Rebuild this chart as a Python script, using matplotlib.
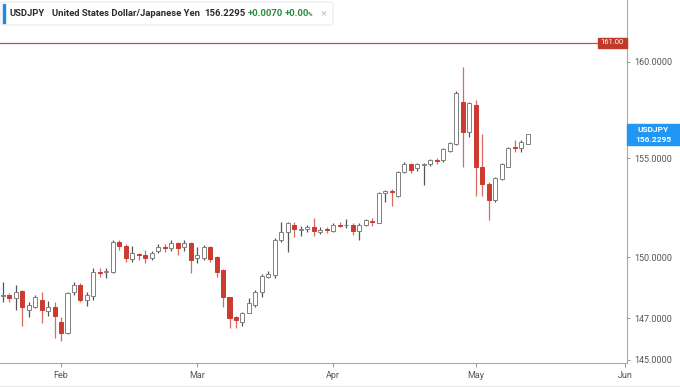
import pandas as pd
import matplotlib.pyplot as plt
from matplotlib.patches import Rectangle, FancyBboxPatch
from matplotlib.lines import Line2D
from matplotlib.ticker import FixedLocator, FuncFormatter, NullLocator

plt.rcParams['font.family'] = ['Roboto', 'DejaVu Sans']

dates = pd.bdate_range('2024-01-19', '2024-05-13')
opens = [148.10, 148.14, 148.01, 148.34, 147.42, 147.57, 147.90, 147.34, 147.56, 146.84,
         146.29, 148.30, 148.63, 147.90, 148.09, 149.29, 149.27, 149.29, 150.78, 150.58,
         149.92, 150.15, 150.12, 149.96, 150.29, 150.53, 150.45, 150.70, 150.53, 150.70,
         149.96, 149.96, 150.53, 149.99, 149.38, 148.03, 147.08, 146.84, 147.28, 147.66,
         148.30, 149.03, 149.10, 150.86, 151.27, 151.62, 151.38, 151.40, 151.53, 151.28,
         151.40, 151.33, 151.62, 151.60, 151.62, 151.33, 151.62, 151.80, 151.73, 153.21,
         153.33, 153.06, 154.28, 154.70, 154.47, 154.64, 154.67, 154.88, 154.88, 155.36,
         155.70, 157.92, 156.35, 157.73, 154.56, 153.68, 152.87, 153.93, 154.56, 155.56,
         155.51, 155.74]
highs = [148.80, 148.22, 148.63, 148.40, 147.82, 148.14, 148.29, 147.86, 147.81, 147.08,
         148.30, 148.79, 148.73, 148.30, 149.48, 149.48, 149.48, 150.86, 150.86, 150.65,
         150.58, 150.22, 150.37, 150.29, 150.65, 150.65, 150.86, 150.78, 150.86, 150.75,
         150.53, 150.60, 150.58, 150.05, 149.40, 148.05, 147.10, 147.33, 147.98, 148.39,
         149.15, 149.30, 150.95, 151.78, 151.78, 151.78, 151.55, 151.62, 151.95, 151.49,
         151.53, 151.72, 151.78, 151.90, 151.70, 151.70, 151.91, 151.95, 153.27, 153.37,
         153.40, 154.35, 154.79, 154.77, 154.74, 154.74, 154.96, 155.00, 155.52, 155.83,
         158.45, 159.75, 157.90, 157.99, 156.25, 153.80, 154.05, 154.77, 155.59, 155.95,
         155.95, 156.26]
lows = [147.82, 147.82, 147.42, 146.61, 147.08, 147.49, 146.78, 147.13, 146.06, 145.89,
        146.25, 148.14, 147.81, 147.60, 147.90, 149.04, 148.98, 149.20, 150.35, 149.79,
        149.79, 149.87, 149.72, 149.87, 150.20, 150.27, 150.32, 150.12, 150.32, 149.21,
        149.70, 149.87, 149.79, 149.04, 147.57, 146.53, 146.53, 146.61, 147.25, 147.57,
        148.06, 148.96, 149.00, 150.78, 150.28, 151.02, 151.08, 151.27, 151.06, 151.17,
        151.21, 151.27, 151.50, 151.45, 151.12, 150.86, 151.55, 151.57, 151.70, 152.78,
        152.57, 153.00, 154.23, 154.23, 154.33, 153.63, 154.57, 154.67, 154.80, 155.29,
        155.67, 154.56, 156.10, 153.06, 153.06, 151.86, 152.78, 153.89, 154.53, 155.33,
        155.33, 155.70]
closes = [148.12, 148.01, 148.30, 147.57, 147.66, 148.06, 147.42, 147.56, 147.13, 146.29,
          148.25, 148.63, 147.90, 148.14, 149.29, 149.24, 149.30, 150.78, 150.58, 149.96,
          150.20, 150.12, 149.96, 150.20, 150.53, 150.48, 150.70, 150.48, 150.70, 149.87,
          150.12, 150.53, 149.92, 149.29, 148.06, 147.01, 146.93, 147.25, 147.74, 148.30,
          149.08, 149.19, 150.86, 151.27, 151.70, 151.40, 151.41, 151.53, 151.33, 151.36,
          151.36, 151.62, 151.57, 151.63, 151.33, 151.62, 151.84, 151.76, 153.21, 153.33,
          153.28, 154.30, 154.71, 154.40, 154.69, 154.68, 154.88, 154.84, 155.48, 155.75,
          158.37, 156.35, 157.87, 154.56, 153.68, 152.87, 153.97, 154.70, 155.51, 155.51,
          155.84, 156.2295]

month_labels = ['Feb', 'Mar', 'Apr', 'May', 'Jun']
month_starts = ['2024-02-01', '2024-03-01', '2024-04-01', '2024-05-01', '2024-06-03']
price_ticks = [145, 147, 150, 155, 160]
alert_level = 161.0
symbol = 'USDJPY'
last_price = closes[-1]

df = pd.DataFrame({'open': opens, 'high': highs, 'low': lows, 'close': closes}, index=dates)
alldays = pd.bdate_range('2024-01-19', '2024-06-03')
tick_pos = [alldays.get_loc(pd.Timestamp(d)) for d in month_starts]

W, H = 680, 387
fig = plt.figure(figsize=(W / 100, H / 100), dpi=100)
ax = fig.add_axes([0, 1 - 363 / H, 627 / W, 363 / H])
ax.set_yscale('log')

x = list(range(len(df)))
up = df['close'] >= df['open']
red = '#cc3a30'
fill = ['white' if u else red for u in up]
edge = ['#808080' if u else red for u in up]
wick = ['#555555' if u else '#d46a60' for u in up]
bottom = df[['open', 'close']].min(axis=1)
height = (df['close'] - df['open']).abs()

ax.vlines(x, df['low'], df['high'], colors=wick, lw=0.9, zorder=2)
ax.bar(x, height, bottom=bottom, width=0.62, color=fill, edgecolor=edge, linewidth=0.7, zorder=3)

ax.axhline(alert_level, xmin=0, xmax=599 / 627, color='#c0504d', lw=0.9)

ax.set_xlim(-0.4167, 96.34)
ax.set_ylim(144.85, 163.31)

ax.yaxis.tick_right()
ax.yaxis.set_major_locator(FixedLocator(price_ticks))
ax.yaxis.set_minor_locator(NullLocator())
ax.yaxis.set_major_formatter(FuncFormatter(lambda v, p: '{:.4f}'.format(v)))
ax.set_xticks(tick_pos)
ax.set_xticklabels(month_labels)
ax.tick_params(axis='y', length=2.5, width=0.6, color='#888888', labelsize=6.5, labelcolor='#555555', pad=3)
ax.tick_params(axis='x', length=3, width=0.6, color='#888888', labelsize=6.5, labelcolor='#555555', pad=3)
for s in ['left', 'top']:
    ax.spines[s].set_visible(False)
for s in ['right', 'bottom']:
    ax.spines[s].set_color('#a8a8a8')
    ax.spines[s].set_linewidth(0.8)


def fx(px):
    return px / W


def fy(py):
    return 1 - py / H


# alert label
fig.patches.append(Rectangle((fx(598), fy(47.5)), fx(29), 10 / H, color='#c0392b', transform=fig.transFigure))
fig.text(fx(612.5), fy(42.5), '{:.2f}'.format(alert_level), color='white', fontsize=5.5, ha='center', va='center')

# last price label
fig.patches.append(Rectangle((fx(627), fy(145)), fx(53), 21 / H, color='#2196f3', transform=fig.transFigure))
fig.text(fx(653), fy(130), symbol, color='white', fontsize=6, fontweight='bold', ha='center', va='center')
fig.text(fx(653), fy(139.5), '{:.4f}'.format(last_price), color='white', fontsize=6, fontweight='bold',
         ha='center', va='center')

# header
fig.patches.append(FancyBboxPatch((fx(1), fy(25)), fx(332), 23 / H, boxstyle='round,pad=0,rounding_size=0.004',
                                  fc='white', ec='#ececec', lw=0.8, transform=fig.transFigure, zorder=5))
fig.patches.append(Rectangle((fx(2.7), fy(22.7)), fx(2.6), 18.7 / H, color='#1e88e5',
                             transform=fig.transFigure, zorder=6))
hy = fy(13.5)
fig.text(fx(9.5), hy, symbol, fontsize=6.8, fontweight='bold', color='#2b2b2b', va='center', zorder=7)
fig.text(fx(52.5), hy, 'United States Dollar/Japanese Yen', fontsize=6.8, fontweight='semibold',
         color='#2b2b2b', va='center', zorder=7)
fig.text(fx(204), hy, '{:.4f}'.format(last_price), fontsize=6.8, fontweight='semibold', color='#2b2b2b',
         va='center', zorder=7)
fig.text(fx(248), hy, '+0.0070', fontsize=6.8, fontweight='semibold', color='#2e8b3e', va='center', zorder=7)
fig.text(fx(285), hy, '+0.00', fontsize=6.8, fontweight='semibold', color='#2e8b3e', va='center', zorder=7)
fig.text(fx(308), fy(14.5), '%', fontsize=4.5, fontweight='semibold', color='#2e8b3e', va='center', zorder=7)
fig.text(fx(324), hy, '×', fontsize=8, color='#c4c4c4', ha='center', va='center', zorder=7)

fig.add_artist(Line2D([0, 1], [fy(386), fy(386)], color='#e4e4e4', lw=0.8, transform=fig.transFigure))

fig.savefig('out.png', dpi=100)
